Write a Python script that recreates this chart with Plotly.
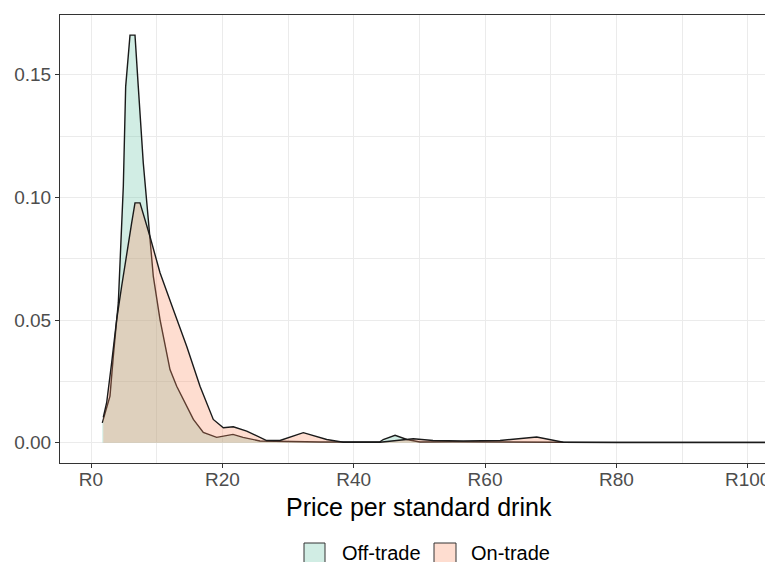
import plotly.graph_objects as go

# Off-trade density (price in Rand, density)
off_price = [1.72, 2.89, 3.40, 4.16, 4.92, 5.28, 5.94, 6.70, 7.20, 7.96, 8.73, 9.49,
             10.51, 12.03, 13.05, 14.05, 15.59, 17.10, 19.14, 21.62, 23.15, 25.73,
             30.0, 35.0, 40.0, 44.0, 44.5, 46.3, 48.1, 50.1, 55.0, 60.0, 65.0, 70.0,
             75.0, 80.0, 90.0, 100.0, 110.0]
off_dens = [0.0081, 0.0190, 0.0353, 0.0571, 0.1045, 0.1452, 0.1662, 0.1662, 0.1452,
            0.1141, 0.0909, 0.0678, 0.0502, 0.0298, 0.0230, 0.0176, 0.0095, 0.0042,
            0.0022, 0.0034, 0.0022, 0.0007, 0.0004, 0.0003, 0.0003, 0.0004, 0.0013,
            0.0030, 0.0013, 0.0003, 0.0004, 0.0003, 0.0004, 0.0003, 0.0002, 0.0001,
            0.0001, 0.0001, 0.0001]

# On-trade density
on_price = [1.87, 2.39, 3.15, 3.91, 4.67, 5.44, 6.20, 6.70, 7.46, 8.98, 10.51, 12.53,
            14.57, 16.60, 18.62, 20.15, 21.67, 23.71, 26.75, 28.78, 32.33, 35.89,
            38.42, 44.0, 49.08, 52.08, 56.65, 62.28, 67.87, 71.92, 80.0, 90.0,
            100.0, 110.0]
on_dens = [0.0103, 0.0164, 0.0327, 0.0502, 0.0638, 0.0775, 0.0897, 0.0978, 0.0978,
           0.0841, 0.0693, 0.0543, 0.0393, 0.0230, 0.0095, 0.0061, 0.0065, 0.0047,
           0.0009, 0.0009, 0.0041, 0.0013, 0.0002, 0.0002, 0.0016, 0.0009, 0.0007,
           0.0009, 0.0023, 0.0002, 0.0002, 0.0001, 0.0001, 0.0001]

x_tickvals = [0, 20, 40, 60, 80, 100]
x_ticktext = ["R0", "R20", "R40", "R60", "R80", "R100"]
y_tickvals = [0.00, 0.05, 0.10, 0.15]
y_ticktext = ["0.00", "0.05", "0.10", "0.15"]
series_names = ["Off-trade", "On-trade"]

off_fill = "rgba(102,194,165,0.3)"
on_fill = "rgba(252,141,98,0.3)"
line_col = "#1a1a1a"

fig = go.Figure()
fig.add_trace(go.Scatter(x=off_price, y=off_dens, mode="lines", fill="tozeroy",
                         name=series_names[0],
                         fillcolor=off_fill, line=dict(color=line_col, width=1.4),
                         showlegend=False, hoverinfo="skip"))
fig.add_trace(go.Scatter(x=on_price, y=on_dens, mode="lines", fill="tozeroy",
                         name=series_names[1],
                         fillcolor=on_fill, line=dict(color=line_col, width=1.4),
                         showlegend=False, hoverinfo="skip"))

# manual legend (paper coords; plot area is 713 x 448 px, page-left 60, page-top 15)
W, H = 713.0, 448.0
def px(xp):
    return (xp - 60) / W
def py(yp):
    return (463 - yp) / H

legend_items = [(304, 325, off_fill, series_names[0], 340),
                (434, 456, on_fill, series_names[1], 469)]
for x0, x1, col, name, tx in legend_items:
    fig.add_shape(type="rect", xref="paper", yref="paper",
                  x0=px(x0), x1=px(x1), y0=py(566), y1=py(543),
                  fillcolor=col, line=dict(color="#333333", width=1))
    fig.add_annotation(xref="paper", yref="paper", x=px(tx), y=py(553),
                       xanchor="left", yanchor="middle", text=name, showarrow=False,
                       font=dict(size=20, color="#000000"))

fig.add_annotation(xref="paper", yref="paper", x=px(419), y=py(507),
                   xanchor="center", yanchor="middle", text="Price per standard drink",
                   showarrow=False, font=dict(size=25, color="#000000"))

grid = "#EBEBEB"
# page body has an 8px margin, so the figure is offset by (8, 8)
fig.update_layout(
    width=765, height=554,
    margin=dict(l=52, r=0, t=7, b=99),
    paper_bgcolor="white", plot_bgcolor="white",
    font=dict(family="Liberation Sans, Arial, sans-serif", color="#4D4D4D"),
    showlegend=False,
    xaxis=dict(range=[-4.72, 103.85], tickvals=x_tickvals, ticktext=x_ticktext,
               tickfont=dict(size=19, color="#4D4D4D"), automargin=False,
               ticklabelstandoff=-5,
               showgrid=True, gridcolor=grid, gridwidth=1.1,
               minor=dict(dtick=10, tick0=0, showgrid=True, gridcolor=grid, gridwidth=0.6),
               zeroline=False, showline=True, linecolor="#333333", linewidth=1,
               mirror=True, ticks="outside", ticklen=4, tickcolor="#333333"),
    yaxis=dict(range=[-0.00827, 0.1744], tickvals=y_tickvals, ticktext=y_ticktext,
               tickfont=dict(size=19, color="#4D4D4D"), automargin=False,
               showgrid=True, gridcolor=grid, gridwidth=1.1,
               minor=dict(dtick=0.025, tick0=0, showgrid=True, gridcolor=grid, gridwidth=0.6),
               zeroline=False, showline=True, linecolor="#333333", linewidth=1,
               ticks="outside", ticklen=4, tickcolor="#333333"),
)

fig.write_html("out.html")
